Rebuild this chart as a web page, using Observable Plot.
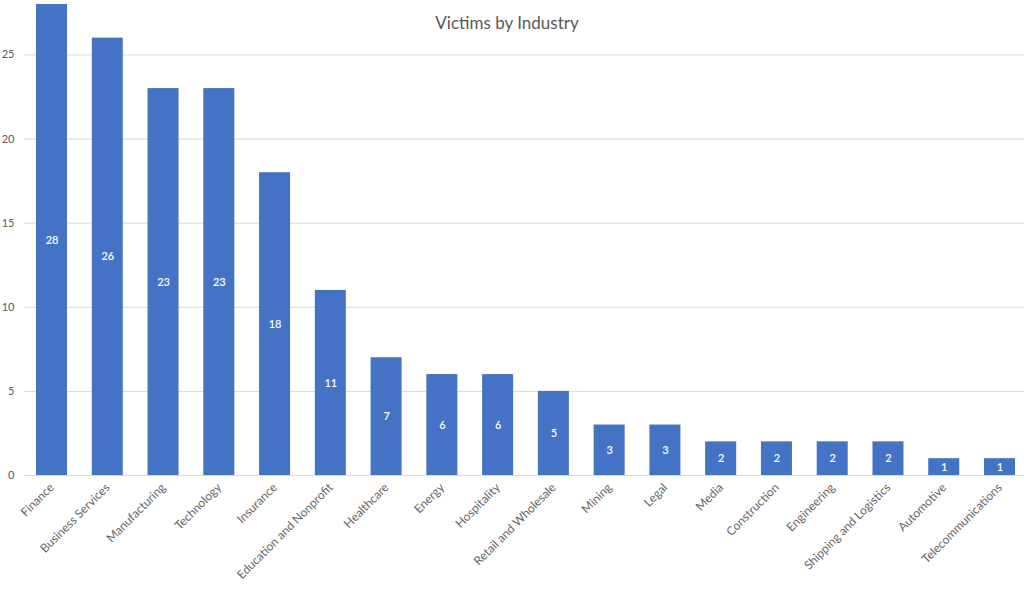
<!DOCTYPE html>
<html>
<head>
<meta charset="utf-8">
<script src="https://cdn.jsdelivr.net/npm/d3@7"></script>
<script src="https://cdn.jsdelivr.net/npm/@observablehq/plot@0.6"></script>
<style>
  html, body { margin: 0; padding: 0; background: #fff; }
  #chart { position: relative; width: 1024px; height: 597px; }
  #title { position: absolute; left: -5px; width: 1024px; top: 12px; text-align: center;
           font-family: Lato, "Open Sans", sans-serif; font-size: 17px; color: #595959; }
</style>
</head>
<body>
<div id="chart"><div id="title">Victims by Industry</div></div>
<script>
const industries = ["Finance", "Business Services", "Manufacturing", "Technology", "Insurance",
  "Education and Nonprofit", "Healthcare", "Energy", "Hospitality", "Retail and Wholesale",
  "Mining", "Legal", "Media", "Construction", "Engineering", "Shipping and Logistics",
  "Automotive", "Telecommunications"];
const victims = [28, 26, 23, 23, 18, 11, 7, 6, 6, 5, 3, 3, 2, 2, 2, 2, 1, 1];
const yTicks = [0, 5, 10, 15, 20, 25];

const data = industries.map((industry, i) => ({industry, victims: victims[i]}));

const chart = Plot.plot({
  width: 1024,
  height: 597,
  marginTop: 4,
  marginBottom: 122,
  marginLeft: 36,
  marginRight: 9,
  style: {fontFamily: "Lato, 'Open Sans', sans-serif", fontSize: "11px", color: "#595959", background: "transparent"},
  x: {domain: industries, paddingInner: 0.444, paddingOuter: 0, round: false, label: null},
  y: {domain: [0, 28], label: null},
  marks: [
    Plot.ruleY(yTicks, {stroke: "#d9d9d9", insetLeft: -12, insetRight: -9}),
    Plot.axisY(yTicks, {tickSize: 0, tickPadding: 22, label: null, fontSize: 11}),
    Plot.barY(data, {x: "industry", y: "victims", fill: "#4472C4"}),
    Plot.text(data, {x: "industry", y: d => d.victims / 2, text: d => String(d.victims),
      fill: "white", fontSize: 11, fontWeight: 600}),
    Plot.axisX({tickSize: 0, tickPadding: 10, tickRotate: -45, label: null, fontSize: 12, textAnchor: "end", fill: "#666"})
  ]
});
document.getElementById("chart").appendChild(chart);
chart.style.position = "absolute";
chart.style.left = "0";
chart.style.top = "0";
document.getElementById("title").style.zIndex = 1;
</script>
</body>
</html>
